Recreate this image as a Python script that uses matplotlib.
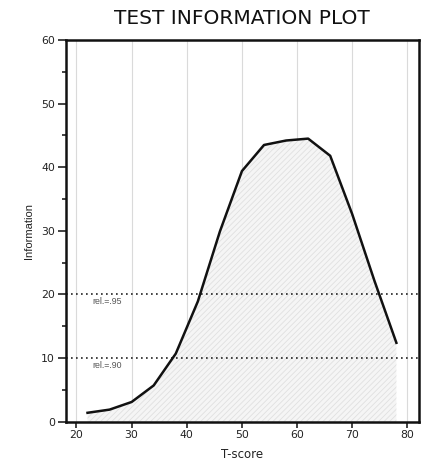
import matplotlib.pyplot as plt
import numpy as np
from matplotlib.ticker import MultipleLocator

# Données
t_score = [22, 26, 30, 34, 38, 42, 46, 50, 54, 58, 62, 66, 70, 74, 78]
information = [1.4, 1.9, 3.1, 5.7, 10.7, 18.9, 29.9, 39.4, 43.5, 44.2, 44.5, 41.8, 32.6, 22.2, 12.4]

rel_levels = [10, 20]
rel_labels = ['rel.=.90', 'rel.=.95']

plt.rcParams['font.family'] = ['DejaVu Sans']
plt.rcParams['hatch.color'] = '#dddddd'
plt.rcParams['hatch.linewidth'] = 0.6

fig = plt.figure(figsize=(4.25, 4.63), dpi=100)
ax = fig.add_axes([0.1553, 0.0892, 0.8306, 0.8244])

# grille verticale
for gx in range(20, 81, 10):
    ax.axvline(gx, color='#dadada', lw=0.8, zorder=0)

ax.fill_between(t_score, information, 0, facecolor='#f5f5f5', edgecolor='#e0e0e0',
                hatch='//////', lw=0, zorder=1)
ax.plot(t_score, information, color='#111111', lw=1.8, zorder=3)

for lvl, lab in zip(rel_levels, rel_labels):
    ax.axhline(lvl, color='#222222', lw=1.2, ls=(0, (1, 2)), zorder=2)
    ax.text(22.8, lvl - 0.4, lab, fontsize=6.3, color='#555555', va='top', ha='left',
            family=['Liberation Sans', 'DejaVu Sans'])

ax.set_xlim(18.1, 82.1)
ax.set_ylim(0, 60)
ax.xaxis.set_major_locator(MultipleLocator(10))
ax.yaxis.set_major_locator(MultipleLocator(10))
ax.yaxis.set_minor_locator(MultipleLocator(5))
ax.tick_params(axis='both', which='major', length=6, width=1.2, labelsize=7.8,
               colors='#222222', pad=2)
ax.tick_params(axis='y', which='minor', length=3, width=1.2, color='#222222')
ax.tick_params(axis='x', which='major', length=4)

for sp in ax.spines.values():
    sp.set_linewidth(1.8)
    sp.set_color('#111111')

ax.set_xlabel('T-score', fontsize=8.5, color='#222222', labelpad=6)
ax.set_ylabel('Information', fontsize=8, color='#222222', labelpad=5,
              family=['Liberation Sans Narrow', 'Liberation Sans'])
fig.text(0.57, 0.96, 'TEST INFORMATION PLOT', fontsize=14.5, ha='center',
         va='center', color='#111111')

fig.savefig('out.png', dpi=100)
